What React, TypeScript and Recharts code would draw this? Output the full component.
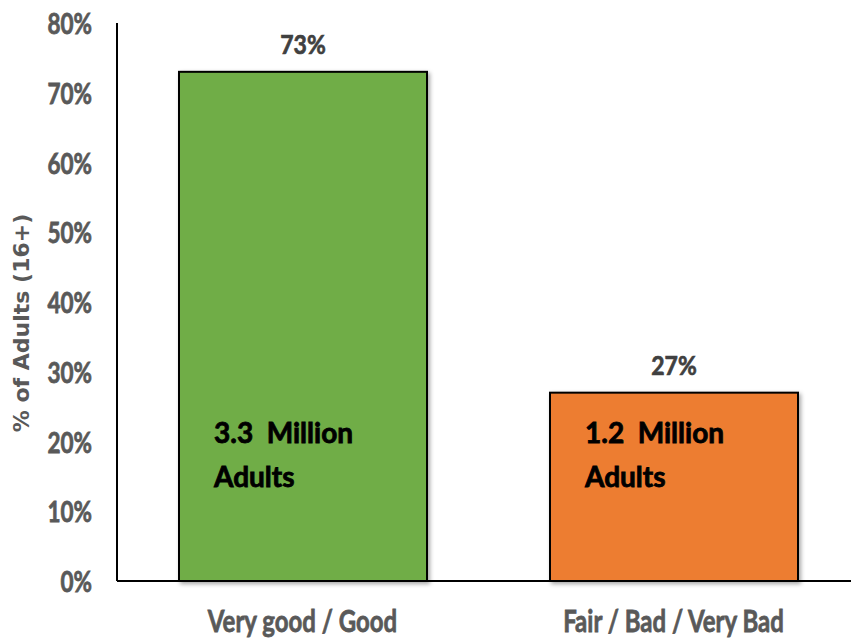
import React from "react";
import { BarChart, Bar, XAxis, YAxis, Cell, LabelList } from "recharts";

const categories = ["Very good / Good", "Fair / Bad / Very Bad"];
const shares = [73, 27];
const shareLabels = ["73%", "27%"];
const adultsMillions = ["3.3", "1.2"];
const barColors = ["#70AD47", "#ED7D31"];
const yTicks = [0, 10, 20, 30, 40, 50, 60, 70, 80];

const data = categories.map((c, i) => ({
  category: c,
  share: shares[i],
  shareLabel: shareLabels[i],
  adults: adultsMillions[i],
}));

const FONT = "Lato, 'Noto Sans', sans-serif";
const GRAY = "#595959";

const SText = (props: any) => {
  const { x, y, k = 1, anchor = "middle", size, fill, sw = 0.6, family = FONT, children } = props;
  return (
    <text transform={`translate(${x} ${y}) scale(1 ${k})`} x={0} y={0} textAnchor={anchor} dominantBaseline="central"
      fontFamily={family} fontWeight="bold" fontSize={size} fill={fill} stroke={fill} strokeWidth={sw}
      style={{ whiteSpace: "pre" }}>
      {children}
    </text>
  );
};

const YTick = (props: any) => {
  const { x, y, payload } = props;
  return <SText x={x} y={y} k={1.25} anchor="end" size={22.5} fill={GRAY}>{`${payload.value}%`}</SText>;
};

const XTick = (props: any) => {
  const { x, y, payload } = props;
  return <SText x={x} y={y} k={1.3} size={24} fill={GRAY}>{payload.value}</SText>;
};

const BarShape = (props: any) => {
  const { x, y, width, height, fill } = props;
  return (
    <rect x={x} y={y} width={width} height={height} fill={fill} stroke="#000" strokeWidth={2}
      style={{ filter: "drop-shadow(2px 2px 2px rgba(0,0,0,0.35))" }} />
  );
};

const TopLabel = (props: any) => {
  const { x, y, width, value } = props;
  return <SText x={x + width / 2} y={y - 28} k={1.15} size={23} fill="#404040">{value}</SText>;
};

const InnerLabel = (props: any) => {
  const { x, y, height, value } = props;
  const base = y + height;
  return (
    <g>
      <SText x={x + 35} y={base - 149} anchor="start" size={28} sw={0.8} fill="#000">{`${value}  Million`}</SText>
      <SText x={x + 35} y={base - 105} anchor="start" size={28} sw={0.8} fill="#000">Adults</SText>
    </g>
  );
};

const YTitle = (props: any) => {
  const { viewBox } = props;
  const cx = viewBox.x + 21;
  const cy = viewBox.y + viewBox.height / 2 + 21;
  return (
    <text x={cx} y={cy} transform={`rotate(-90, ${cx}, ${cy})`} textAnchor="middle" dominantBaseline="central"
      fontFamily="'DejaVu Sans', sans-serif" fontWeight="bold" fontSize={22} fill={GRAY}>
      % of Adults (16+)
    </text>
  );
};

export default function App() {
  return (
    <div style={{ position: "absolute", left: 0, top: 0, width: 851, height: 638, overflow: "hidden", background: "#fff" }}>
      <BarChart width={870} height={638} data={data} margin={{ top: 23, right: 11, bottom: 27, left: 0 }}>
        <XAxis dataKey="category" height={30} axisLine={{ stroke: "#000", strokeWidth: 2 }} tickLine={false} tickSize={0} tickMargin={39} tick={<XTick />} interval={0} />
        <YAxis width={117} domain={[0, 80]} ticks={yTicks} axisLine={{ stroke: "#000", strokeWidth: 2 }} tickLine={false} tickSize={0} tickMargin={25} tick={<YTick />} label={<YTitle />} />
        <Bar dataKey="share" barSize={248} isAnimationActive={false} shape={<BarShape />}>
          {data.map((d, i) => (
            <Cell key={d.category} fill={barColors[i]} />
          ))}
          <LabelList dataKey="shareLabel" content={<TopLabel />} />
          <LabelList dataKey="adults" content={<InnerLabel />} />
        </Bar>
      </BarChart>
    </div>
  );
}
